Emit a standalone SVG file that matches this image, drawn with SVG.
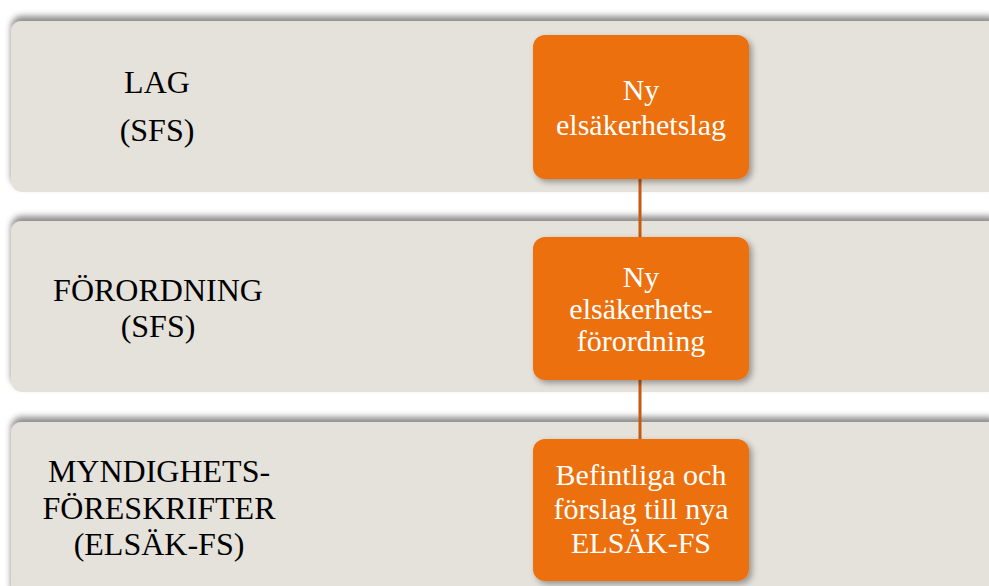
<svg xmlns="http://www.w3.org/2000/svg" width="989" height="586" viewBox="0 0 989 586">
<defs>
<filter id="bandShadow" x="-5%" y="-20%" width="110%" height="140%">
<feDropShadow dx="0" dy="-5" stdDeviation="3" flood-color="#000" flood-opacity="0.45"/>
</filter>
<filter id="boxShadow" x="-10%" y="-10%" width="125%" height="125%">
<feDropShadow dx="3" dy="3" stdDeviation="3" flood-color="#000" flood-opacity="0.35"/>
</filter>
<style>
.band{fill:#E5E1DB;filter:url(#bandShadow)}
.box{fill:#EC700A;filter:url(#boxShadow)}
.lbl{font-size:32px;fill:#000;text-anchor:middle}
.btxt{font-size:30px;fill:#fff;text-anchor:middle}
.conn{stroke:#C55A11;stroke-width:3;fill:none}
</style>
</defs>
<g id="band-lag">
<rect class="band" x="11" y="21" width="988" height="171" rx="11"/>
<text class="lbl" font-family="Liberation Serif, DejaVu Serif, serif" x="157" y="93">LAG</text>
<text class="lbl" font-family="Liberation Serif, DejaVu Serif, serif" x="157" y="141">(SFS)</text>
</g>
<g id="band-forordning">
<rect class="band" x="11" y="221" width="988" height="171" rx="11"/>
<text class="lbl" font-family="Liberation Serif, DejaVu Serif, serif" x="158" y="301">FÖRORDNING</text>
<text class="lbl" font-family="Liberation Serif, DejaVu Serif, serif" x="158" y="337">(SFS)</text>
</g>
<g id="band-foreskrifter">
<rect class="band" x="11" y="422" width="988" height="180" rx="11"/>
<text class="lbl" font-family="Liberation Serif, DejaVu Serif, serif" x="159" y="482">MYNDIGHETS-</text>
<text class="lbl" font-family="Liberation Serif, DejaVu Serif, serif" x="159" y="519">FÖRESKRIFTER</text>
<text class="lbl" font-family="Liberation Serif, DejaVu Serif, serif" x="159" y="555">(ELSÄK-FS)</text>
</g>
<g id="connectors">
<line class="conn" x1="640" y1="179" x2="640" y2="237"/>
<line class="conn" x1="640" y1="380" x2="640" y2="439"/>
</g>
<g id="node-lag">
<rect class="box" x="533" y="35" width="216" height="144" rx="12"/>
<text class="btxt" font-family="Liberation Serif, DejaVu Serif, serif" x="641" y="100">Ny</text>
<text class="btxt" font-family="Liberation Serif, DejaVu Serif, serif" x="641" y="135">elsäkerhetslag</text>
</g>
<g id="node-forordning">
<rect class="box" x="533" y="237" width="216" height="143" rx="12"/>
<text class="btxt" font-family="Liberation Serif, DejaVu Serif, serif" x="641" y="287">Ny</text>
<text class="btxt" font-family="Liberation Serif, DejaVu Serif, serif" x="641" y="319">elsäkerhets-</text>
<text class="btxt" font-family="Liberation Serif, DejaVu Serif, serif" x="641" y="351">förordning</text>
</g>
<g id="node-foreskrifter">
<rect class="box" x="533" y="439" width="216" height="142" rx="12"/>
<text class="btxt" font-family="Liberation Serif, DejaVu Serif, serif" x="641" y="485">Befintliga och</text>
<text class="btxt" font-family="Liberation Serif, DejaVu Serif, serif" x="641" y="519">förslag till nya</text>
<text class="btxt" font-family="Liberation Serif, DejaVu Serif, serif" x="641" y="553">ELSÄK-FS</text>
</g>
</svg>
